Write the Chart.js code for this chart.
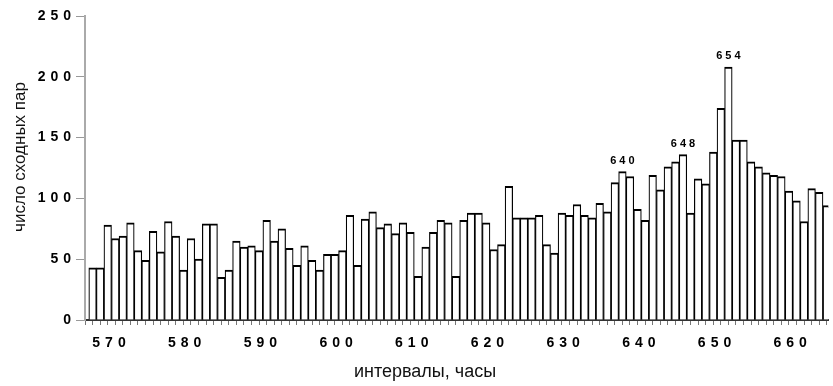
<!DOCTYPE html>
<html>
<head>
<meta charset="utf-8">
<script src="https://cdn.jsdelivr.net/npm/chart.js@4.4.1/dist/chart.umd.min.js"></script>
<style>
  html, body { margin: 0; padding: 0; background: #fff; overflow: hidden; }
  #wrap { width: 833px; height: 386px; position: relative; }
</style>
</head>
<body>
<div id="wrap"><canvas id="intervalChart"></canvas></div>
<script>
// bar left edges on the hour axis
const hours = [
  567, 568, 569, 570, 571, 572, 573, 574, 575, 576,
  577, 578, 579, 580, 581, 582, 583, 584, 585, 586,
  587, 588, 589, 590, 591, 592, 593, 594, 595, 596,
  597, 598, 599, 600, 601, 602, 603, 604, 605, 606,
  607, 608, 609, 610, 611, 612, 613, 614, 615, 616,
  617, 618, 619, 620, 621, 622, 623, 624, 625, 626,
  627, 628, 629, 630, 631, 632, 633, 634, 635, 636,
  637, 638, 639, 640, 641, 642, 643, 644, 645, 646,
  647, 648, 649, 650, 651, 652, 653, 654, 655, 656,
  657, 658, 659, 660, 661, 662, 663, 664,
];

const pairCounts = [
  43, 43, 78, 67, 69, 80, 57, 49, 73, 56,
  81, 69, 41, 67, 50, 79, 79, 35, 41, 65,
  60, 61, 57, 82, 65, 75, 59, 45, 61, 49,
  41, 54, 54, 57, 86, 45, 83, 89, 76, 79,
  71, 80, 72, 36, 60, 72, 82, 80, 36, 82,
  88, 88, 80, 58, 62, 110, 84, 84, 84, 86,
  62, 55, 88, 86, 95, 86, 84, 96, 89, 113,
  122, 118, 91, 82, 119, 107, 126, 130, 136, 88,
  116, 112, 138, 174, 208, 148, 148, 130, 126, 121,
  119, 118, 106, 98, 81, 108, 105, 94,
];

const xTickLabels = [570, 580, 590, 600, 610, 620, 630, 640, 650, 660];
const yTickLabels = [0, 50, 100, 150, 200, 250];

const peakHours = [637, 645, 651];
const peakLabels = ["640", "648", "654"];

const xTitle = "интервалы, часы";
const yTitle = "число сходных пар";

const labelFont = '"Liberation Sans", Arial, sans-serif';

const textPlugin = {
  id: "textPlugin",
  beforeDraw(chart) {
    chart.ctx.letterSpacing = "5px";
  },
  afterDatasetsDraw(chart) {
    const ctx = chart.ctx;
    const xs = chart.scales.x;
    const ys = chart.scales.y;
    ctx.save();
    ctx.letterSpacing = "3px";
    ctx.font = "bold 11px " + labelFont;
    ctx.fillStyle = "#000";
    ctx.textAlign = "center";
    ctx.textBaseline = "alphabetic";
    peakHours.forEach((h, k) => {
      const i = hours.indexOf(h);
      ctx.fillText(peakLabels[k], xs.getPixelForValue(h + 0.5) + 1.5, ys.getPixelForValue(pairCounts[i]) - 8);
    });
    ctx.restore();
  },
  afterDraw(chart) {
    const ctx = chart.ctx;
    ctx.save();
    ctx.letterSpacing = "0px";
    ctx.fillStyle = "#111";
    ctx.textAlign = "center";
    ctx.textBaseline = "middle";
    ctx.font = "18px " + labelFont;
    ctx.fillText(xTitle, 425, 372);
    ctx.font = "17px " + labelFont;
    ctx.translate(20, 157);
    ctx.rotate(-Math.PI / 2);
    ctx.fillText(yTitle, 0, 0);
    ctx.restore();
  },
};

const chart = new Chart(document.getElementById("intervalChart"), {
  type: "bar",
  data: {
    datasets: [
      {
        data: pairCounts.map((v, i) => ({ x: hours[i] + 0.5, y: v })),
        backgroundColor: "#fff",
        borderColor: "#000",
        borderWidth: { top: 2, left: 1.2, right: 1.2, bottom: 0 },
        borderSkipped: false,
        barPercentage: 1,
        categoryPercentage: 1,
      },
    ],
  },
  options: {
    responsive: true,
    maintainAspectRatio: false,
    animation: false,
    layout: { padding: { top: 16, right: 0, bottom: 0, left: 0 } },
    plugins: { legend: { display: false }, tooltip: { enabled: false } },
    scales: {
      x: {
        type: "linear",
        min: 567,
        max: 664.2,
        z: 1,
        afterBuildTicks: (s) => {
          s.ticks = hours.map((h) => ({ value: h }));
        },
        afterFit: (s) => {
          s.height = 66;
        },
        ticks: {
          autoSkip: false,
          maxRotation: 0,
          minRotation: 0,
          padding: 10,
          color: "#000",
          font: { family: labelFont, size: 14, weight: "bold" },
          callback: (v) => (xTickLabels.includes(v) ? String(v) : ""),
        },
        grid: { drawOnChartArea: false, tickLength: 5, tickColor: "#777", lineWidth: 1 },
        border: { display: true, color: "#333", width: 2 },
      },
      y: {
        min: 0,
        max: 250,
        afterBuildTicks: (s) => {
          s.ticks = yTickLabels.map((v) => ({ value: v }));
        },
        afterFit: (s) => {
          s.width = 85;
        },
        ticks: {
          padding: 0,
          color: "#000",
          font: { family: labelFont, size: 14, weight: "bold" },
          callback: (v) => String(v),
        },
        grid: { drawOnChartArea: false, tickLength: 9, tickColor: "#999", lineWidth: 1 },
        border: { display: true, color: "#aaa", width: 2 },
      },
    },
  },
  plugins: [textPlugin],
});
</script>
</body>
</html>
